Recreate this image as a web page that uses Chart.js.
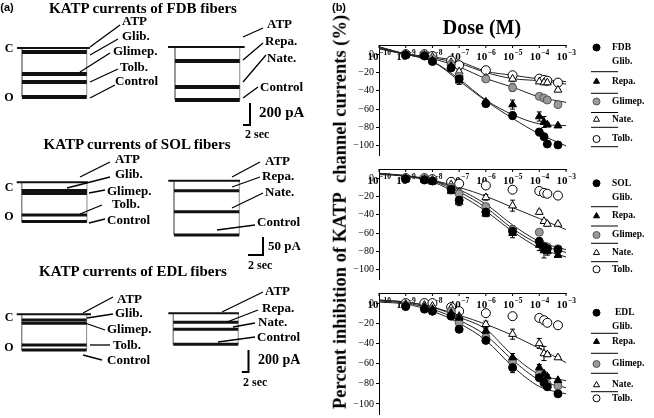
<!DOCTYPE html>
<html>
<head>
<meta charset="utf-8">
<script src="https://cdn.jsdelivr.net/npm/chart.js@4.4.1/dist/chart.umd.min.js"></script>
<style>
  html, body { margin: 0; padding: 0; background: #fff; }
  body { width: 654px; height: 418px; position: relative; overflow: hidden; }
  canvas { position: absolute; }
  .t { position: absolute; font-family: "Liberation Serif", serif; font-weight: bold; line-height: 1;
       white-space: nowrap; color: #000; transform: translate(-50%, -50%); }
</style>
</head>
<body>
<canvas id="fdbL" width="330" height="418" style="left:0;top:0"></canvas>
<canvas id="fdbR" width="330" height="418" style="left:0;top:0"></canvas>
<canvas id="solL" width="330" height="418" style="left:0;top:0"></canvas>
<canvas id="solR" width="330" height="418" style="left:0;top:0"></canvas>
<canvas id="edlL" width="330" height="418" style="left:0;top:0"></canvas>
<canvas id="edlR" width="330" height="418" style="left:0;top:0"></canvas>
<canvas id="bFdb" width="324" height="126" style="left:330px;top:37px"></canvas>
<canvas id="bSol" width="324" height="126" style="left:330px;top:161px"></canvas>
<canvas id="bEdl" width="324" height="137" style="left:330px;top:285px"></canvas>

<div class="t" style="left:7px;top:7px;font:bold 11px 'Liberation Sans'">(a)</div>
<div class="t" style="left:143px;top:8px;font-size:15px">KATP currents of FDB fibers</div>
<div class="t" style="left:137px;top:144px;font-size:15px">KATP currents of SOL fibers</div>
<div class="t" style="left:133px;top:271px;font-size:15px">KATP currents of EDL fibers</div>
<div class="t" style="left:9px;top:48px;font-size:12px">C</div>
<div class="t" style="left:9px;top:97px;font-size:12px">O</div>
<div class="t" style="left:9px;top:187px;font-size:12px">C</div>
<div class="t" style="left:9px;top:216px;font-size:12px">O</div>
<div class="t" style="left:9px;top:317px;font-size:12px">C</div>
<div class="t" style="left:9px;top:347px;font-size:12px">O</div>
<div class="t" style="left:339px;top:7px;font:bold 11px 'Liberation Sans'">(b)</div>
<div class="t" style="left:482px;top:27px;font-size:20px">Dose (M)</div>
<div class="t" style="left:340px;top:212px;font-size:18.5px;transform:translate(-50%,-50%) rotate(-90deg)">Percent inhibition of KATP&nbsp; channel currents (%)</div>

<script>
// ---- panel (a): current levels (pA, relative to the ATP closed level) ----
const leftNames = ['ATP', 'Glib.', 'Glimep.', 'Tolb.', 'Control'];
const rightNames = ['ATP', 'Repa.', 'Nate.', 'Control'];
const fdbLeftLevels = [0, -36, -236, -309, -445];
const fdbRightLevels = [0, -127, -364, -482];
const solLeftLevels = [0, -23, -31, -91, -109];
const solRightLevels = [0, -28, -86, -151];
const edlLeftLevels = [0, -52, -82, -279, -325];
const edlRightLevels = [0, -82, -145, -282];
const traceSeconds = [18.5, 8.7, 19.5];   // FDB, SOL, EDL
const barSeconds = [2, 2, 2];
const barPicoamps = [200, 50, 200];

// ---- panel (b): dose-response ----
const doses = [1e-9, 5e-9, 1e-8, 5e-8, 1e-7, 1e-6, 1e-5, 1e-4, 1.5e-4, 2e-4, 5e-4];
const fitDoses = [1e-10, 1e-9, 1e-8, 1e-7, 1e-6, 1e-5, 1e-4, 1e-3];
const drugs = ['Glib.', 'Repa.', 'Glimep.', 'Nate.', 'Tolb.'];
const xTickValues = [1e-10, 1e-9, 1e-8, 1e-7, 1e-6, 1e-5, 1e-4, 1e-3];
const xTickExponents = ['-10', '-9', '-8', '-7', '-6', '-5', '-4', '-3'];
const yTicks = [0, -20, -40, -60, -80, -100];

const fdbMean = [
  [-1, -2, -8, -15, -27, -54, -67, -85, -90, -98, -99],
  [-1, -2, -7, -13, -29, -52, -55, -68, -74, -77, -78],
  [-1, -1, -5, -11, -24, -27, -36.5, -46, -48, -50, -55],
  [0, -1, -3, -9, -19, -26, -27, -30, -31, -31, -39],
  [0, 0, -2, -7, -12, -17.5, -23, -26.7, -28, -29, -31]
];
const fdbSem = [
  [0, 0, 1, 2, 4, 2, 4, 4, 3, 2, 1],
  [0, 0, 1, 3, 4, 2, 5, 5, 6, 2, 1],
  [0, 0, 1, 2, 3, 3, 4, 2, 1, 1, 1],
  [0, 0, 1, 2, 2, 2, 3, 2, 1, 1, 1],
  [0, 0, 1, 1, 2, 2, 3, 2, 1, 1, 1]
];
const fdbFit = [
  [8, 0, -8, -29, -51, -70, -87, -100],
  [8, 0, -8, -27, -50, -66, -76, -78],
  [7, 0, -5, -14, -26.6, -36, -46.7, -52.6],
  [6, 0, -4, -10, -20, -26.7, -29, -32.6],
  [6, 0, -3, -8, -18.6, -23, -27, -30]
];
const solMean = [
  [-1, -2, -3, -12, -24, -37, -58, -69, -75, -77, -78],
  [-1, -2, -4, -14, -26, -39, -60, -73, -79, -80, -84],
  [-1, -1, -3, -10, -17, -31, -56, -59, -74, -75, -77],
  [0, -1, -2, -7, -15, -21, -30, -37, -47, -50, -50],
  [0, 0, -1, -4, -6, -8, -12.6, -14, -16, -17, -19]
];
const solSem = [
  [0, 0, 1, 2, 4, 3, 4, 4, 4, 3, 2],
  [0, 0, 1, 3, 4, 3, 5, 6, 8, 4, 2],
  [0, 0, 1, 2, 3, 3, 4, 3, 3, 2, 2],
  [0, 0, 1, 2, 3, 3, 6, 2, 2, 2, 1],
  [0, 0, 0, 1, 1, 2, 1, 1, 1, 1, 1]
];
const solFit = [
  [5, 2.5, -3, -15, -32, -55, -72, -81],
  [4, 2, -4, -18, -36, -58, -76, -86],
  [5, 2.5, -2.5, -12.6, -28.4, -51, -69, -78],
  [5, 3, -2, -10, -19.7, -32, -44, -56],
  null
];
const edlMean = [
  [-3.5, -6, -8, -13, -26, -37, -64, -74, -79, -83, -90],
  [-2, -4, -6, -10, -14.7, -27.6, -54, -64, -70, -73, -76.6],
  [-2, -5, -8, -8, -19.5, -34, -58, -70, -76.6, -80.5, -82],
  [-1, -2, -3, -5, -13, -21, -30.8, -40, -50, -51, -54],
  [0, 0, 0, -4, -8, -10, -13, -14.7, -17, -19.5, -22]
];
const edlSem = [
  [1, 1, 1, 1, 1, 2, 5, 3, 2, 2, 1],
  [1, 1, 1, 1, 2, 2, 4, 3, 2, 2, 1],
  [1, 1, 1, 1, 2, 2, 4, 3, 2, 2, 1],
  [0, 0, 1, 1, 2, 3, 5, 5, 7, 2, 1],
  [0, 0, 0, 1, 1, 2, 3, 1, 1, 1, 1]
];
const edlFit = [
  [1, -1, -8, -20, -37, -62.8, -82.7, -90],
  [3, 1, -4, -14, -26, -51.6, -70.8, -77],
  [2, 0, -6, -17, -32, -56.4, -76.3, -84],
  [3, 1, -4, -12, -21, -32, -45, -59],
  null
];

Chart.defaults.font.family = '"Liberation Serif", serif';
Chart.defaults.color = '#000';

// ---------- panel (a) ----------
// ox/oy: pixel of t=0 / 0 pA, pps: px per second, ppa: px per pA
// tags: [label x, label y, leader x1, y1, x2, y2]
const traceGroups = [
  {id: 'fdbL', row: 0, names: leftNames, levels: fdbLeftLevels, ox: 22, oy: 48, pps: 3.5, ppa: 0.11, pre: 1.4, post: 0.9, lw: 4,
   tags: [[122, 22, 90, 47, 120, 25], [122, 37, 90, 55, 118, 39], [113, 52, 80, 72, 110, 53], [120, 68, 90, 82, 118, 69], [115, 82, 90, 98, 115, 85]]},
  {id: 'fdbR', row: 0, names: rightNames, levels: fdbRightLevels, ox: 175, oy: 47, pps: 3.5, ppa: 0.11, pre: 2, post: 1.4, lw: 4,
   tags: [[267, 25, 243, 37, 263, 28], [265, 42, 243, 60, 263, 43], [267, 59, 243, 82, 266, 55], [260, 88, 243, 98, 258, 87]],
   bar: {x: 250, y: 125, tx: 259, ty: 113, sx: 245, sy: 135, font: 15}},
  {id: 'solL', row: 1, names: leftNames, levels: solLeftLevels, ox: 21.7, oy: 182.3, pps: 7.5, ppa: 0.36, pre: 0.67, post: 0.13, lw: 3,
   tags: [[115, 160, 80, 177, 110, 162], [115, 175, 67, 188, 110, 177], [107, 192, 89, 193, 105, 190], [112, 205, 80, 214, 102, 205], [107, 221, 89, 223, 105, 219]]},
  {id: 'solR', row: 1, names: rightNames, levels: solRightLevels, ox: 174, oy: 180.7, pps: 7.5, ppa: 0.36, pre: 0.76, post: 0.1, lw: 3,
   tags: [[265, 162, 232, 177, 260, 162], [262, 177, 232, 187, 260, 177], [265, 193, 232, 208, 263, 193], [257, 223, 217, 230, 255, 225]],
   bar: {x: 263, y: 255, tx: 268, ty: 247, sx: 248, sy: 266, font: 13}},
  {id: 'edlL', row: 2, names: leftNames, levels: edlLeftLevels, ox: 21.7, oy: 314.3, pps: 3.33, ppa: 0.11, pre: 1.5, post: 1.3, lw: 3,
   tags: [[117, 300, 83, 313, 113, 297], [115, 314, 87, 318, 113, 314], [107, 330, 85, 323, 105, 330], [113, 346, 90, 345, 110, 345], [107, 361, 83, 355, 102, 360]]},
  {id: 'edlR', row: 2, names: rightNames, levels: edlRightLevels, ox: 173.3, oy: 313.3, pps: 3.33, ppa: 0.11, pre: 1.5, post: 0.2, lw: 3,
   tags: [[265, 292, 222, 312, 263, 292], [262, 309, 227, 322, 258, 310], [258, 323, 233, 327, 255, 323], [257, 338, 218, 342, 255, 337]],
   bar: {x: 248.5, y: 372, tx: 258, ty: 360, sx: 243, sy: 383, font: 14}}
];

function tagPlugin(g) {
  return {
    id: 'tags',
    afterDraw(chart) {
      const ctx = chart.ctx;
      ctx.save();
      ctx.strokeStyle = '#000';
      ctx.fillStyle = '#000';
      ctx.lineWidth = 1.3;
      ctx.font = 'bold 13px "Liberation Serif"';
      ctx.textBaseline = 'middle';
      g.names.forEach((name, i) => {
        const [tx, ty, x1, y1, x2, y2] = g.tags[i];
        ctx.beginPath();
        ctx.moveTo(x1, y1);
        ctx.lineTo(x2, y2);
        ctx.stroke();
        ctx.fillText(name, tx, ty);
      });
      if (g.bar) {
        const b = g.bar, xs = chart.scales.x, ys = chart.scales.y;
        const w = xs.getPixelForValue(barSeconds[g.row]) - xs.getPixelForValue(0);
        const h = ys.getPixelForValue(0) - ys.getPixelForValue(barPicoamps[g.row]);
        ctx.lineWidth = 2;
        ctx.beginPath();
        ctx.moveTo(b.x, b.y - h);
        ctx.lineTo(b.x, b.y);
        ctx.lineTo(b.x - w, b.y);
        ctx.stroke();
        ctx.font = 'bold ' + b.font + 'px "Liberation Serif"';
        ctx.fillText(barPicoamps[g.row] + ' pA', b.tx, b.ty);
        ctx.font = 'bold 12px "Liberation Serif"';
        ctx.fillText(barSeconds[g.row] + ' sec', b.sx, b.sy);
      }
      ctx.restore();
    }
  };
}

traceGroups.forEach(g => {
  const cv = document.getElementById(g.id);
  const T = traceSeconds[g.row];
  const low = Math.min(...g.levels);
  const datasets = g.levels.map((lv, i) => ({
    data: i === 0 ? [{x: -g.pre, y: lv}, {x: T + g.post, y: lv}] : [{x: 0, y: lv}, {x: T, y: lv}],
    borderColor: '#111',
    borderWidth: i === 0 ? 2 : g.lw,
    order: 1
  }));
  // grey frame around the recordings
  datasets.push({data: [{x: 0, y: 0}, {x: 0, y: low}, {x: T, y: low}, {x: T, y: 0}],
                 borderColor: '#8a8a8a', borderWidth: 1, order: 2});
  new Chart(cv, {
    type: 'scatter',
    data: {datasets},
    options: {
      responsive: false, animation: false, events: [],
      showLine: true,
      elements: {point: {radius: 0}},
      plugins: {legend: {display: false}, tooltip: {enabled: false}},
      scales: {
        x: {type: 'linear', display: false, min: -g.ox / g.pps, max: (cv.width - g.ox) / g.pps},
        y: {type: 'linear', display: false, min: -(cv.height - g.oy) / g.ppa, max: g.oy / g.ppa}
      }
    },
    plugins: [tagPlugin(g)]
  });
});

// ---------- panel (b) ----------
const drugStyle = [
  {shape: 'circle', fill: '#000', edge: '#000', r: 4},
  {shape: 'triangle', fill: '#000', edge: '#000', r: 4.5},
  {shape: 'circle', fill: '#9a9a9a', edge: '#555', r: 4},
  {shape: 'triangle', fill: '#fff', edge: '#000', r: 4.5},
  {shape: 'circle', fill: '#fff', edge: '#000', r: 4.5}
];

const doseLayouts = [
  {id: 'bFdb', top: 37, areaTop: 45, fiber: 'FDB', mean: fdbMean, sem: fdbSem, fit: fdbFit, headX: 612,
   rows: [47.5, 81.5, 101.5, 119.5, 139], seps: [71.7, 93.3, 112.5, 127.3, 146.7]},
  {id: 'bSol', top: 161, areaTop: 169, fiber: 'SOL', mean: solMean, sem: solSem, fit: solFit, headX: 612,
   rows: [183.3, 216, 235, 252.7, 269.3], seps: [206.7, 226, 243.3, 261.7]},
  {id: 'bEdl', top: 285, areaTop: 293, fiber: 'EDL', mean: edlMean, sem: edlSem, fit: edlFit, headX: 615,
   rows: [312.7, 341.7, 364, 385, 398.3], seps: [333.3, 353.3, 373.3, 391.7]}
];

const errorBars = {
  id: 'errorBars',
  beforeDatasetsDraw(chart) {
    const {ctx, scales: {x, y}} = chart;
    ctx.save();
    ctx.strokeStyle = '#000';
    ctx.lineWidth = 1;
    chart.data.datasets.forEach(ds => {
      if (!ds.sem) return;
      ds.data.forEach((p, j) => {
        const e = ds.sem[j];
        if (!e) return;
        const px = x.getPixelForValue(p.x);
        const top = y.getPixelForValue(p.y + e), bot = y.getPixelForValue(p.y - e);
        ctx.beginPath();
        ctx.moveTo(px, top); ctx.lineTo(px, bot);
        ctx.moveTo(px - 2.5, top); ctx.lineTo(px + 2.5, top);
        ctx.moveTo(px - 2.5, bot); ctx.lineTo(px + 2.5, bot);
        ctx.stroke();
      });
    });
    ctx.restore();
  }
};

// decade labels (10 with a raised exponent) just under the axis line, inside the plot
const xTickText = {
  id: 'xTickText',
  beforeDatasetsDraw(chart) {
    const {ctx, chartArea, scales: {x}} = chart;
    ctx.save();
    ctx.fillStyle = '#000';
    ctx.strokeStyle = '#000';
    ctx.lineWidth = 1;
    ctx.textAlign = 'left';
    ctx.textBaseline = 'alphabetic';
    const base = chartArea.top + 15;
    xTickValues.forEach((v, i) => {
      const px = x.getPixelForValue(v);
      ctx.beginPath();
      ctx.moveTo(px, chartArea.top);
      ctx.lineTo(px, chartArea.top + 3);
      ctx.stroke();
      const sup = xTickExponents[i].replace('-', '−');
      ctx.font = 'bold 11px "Liberation Serif"';
      const w1 = ctx.measureText('10').width;
      ctx.font = 'bold 7.5px "Liberation Serif"';
      const w2 = ctx.measureText(sup).width;
      const x0 = px - (w1 + w2) / 2;
      ctx.fillText(sup, x0 + w1 + 0.5, base - 5);
      ctx.font = 'bold 11px "Liberation Serif"';
      ctx.fillText('10', x0, base);
    });
    ctx.restore();
  }
};

function sideLegend(L) {
  return {
    id: 'sideLegend',
    afterDraw(chart) {
      const ctx = chart.ctx, ox = 330, oy = L.top;
      ctx.save();
      ctx.font = 'bold 9.5px "Liberation Serif"';
      ctx.textBaseline = 'middle';
      ctx.lineWidth = 1;
      drugs.forEach((name, i) => {
        const s = drugStyle[i], y = L.rows[i] - oy;
        ctx.fillStyle = s.fill;
        ctx.strokeStyle = s.edge;
        Chart.helpers.drawPoint(ctx, {pointStyle: s.shape, radius: 3.5, borderWidth: 1, rotation: 0}, 596.5 - ox, y);
        ctx.fillStyle = '#000';
        if (i === 0) {
          ctx.fillText(L.fiber, L.headX - ox, y);
          ctx.fillText(name, 612 - ox, y + 14);
        } else {
          ctx.fillText(name, 612 - ox, y);
        }
      });
      ctx.strokeStyle = '#000';
      L.seps.forEach(sy => {
        ctx.beginPath();
        ctx.moveTo(591 - ox, sy - oy);
        ctx.lineTo(618 - ox, sy - oy);
        ctx.stroke();
      });
      ctx.restore();
    }
  };
}

doseLayouts.forEach(L => {
  const cv = document.getElementById(L.id);
  const datasets = [];
  drugs.forEach((name, i) => {
    const s = drugStyle[i];
    datasets.push({
      label: name,
      data: doses.map((d, j) => ({x: d, y: L.mean[i][j]})),
      sem: L.sem[i],
      pointStyle: s.shape, pointRadius: s.r,
      backgroundColor: s.fill, borderColor: s.edge, borderWidth: 1,
      order: 1
    });
    if (L.fit[i]) {
      datasets.push({
        data: fitDoses.map((d, j) => ({x: d, y: L.fit[i][j]})),
        showLine: true, pointRadius: 0,
        borderColor: '#222', borderWidth: 1,
        cubicInterpolationMode: 'monotone',
        order: 2
      });
    }
  });
  new Chart(cv, {
    type: 'scatter',
    data: {datasets},
    options: {
      responsive: false, animation: false, events: [],
      layout: {padding: {left: 0, right: 88, top: L.areaTop - L.top, bottom: 4}},
      plugins: {legend: {display: false}, tooltip: {enabled: false}},
      scales: {
        x: {
          type: 'logarithmic', position: 'top', min: 1e-10, max: 1e-3,
          afterFit: s => { s.height = 0; },
          ticks: {display: false},
          grid: {display: false},
          border: {color: '#000', width: 1}
        },
        y: {
          type: 'linear', min: -110, max: 10,
          afterFit: s => { s.width = 49; },
          afterBuildTicks: s => { s.ticks = yTicks.map(v => ({value: v})); },
          grid: {drawOnChartArea: false, color: '#000', tickLength: 3},
          border: {color: '#000', width: 1},
          ticks: {color: '#000', padding: 2, font: {size: 10},
                  callback: v => (v < 0 ? '−' + (-v) : String(v))}
        }
      }
    },
    plugins: [errorBars, xTickText, sideLegend(L)]
  });
});
</script>
</body>
</html>
